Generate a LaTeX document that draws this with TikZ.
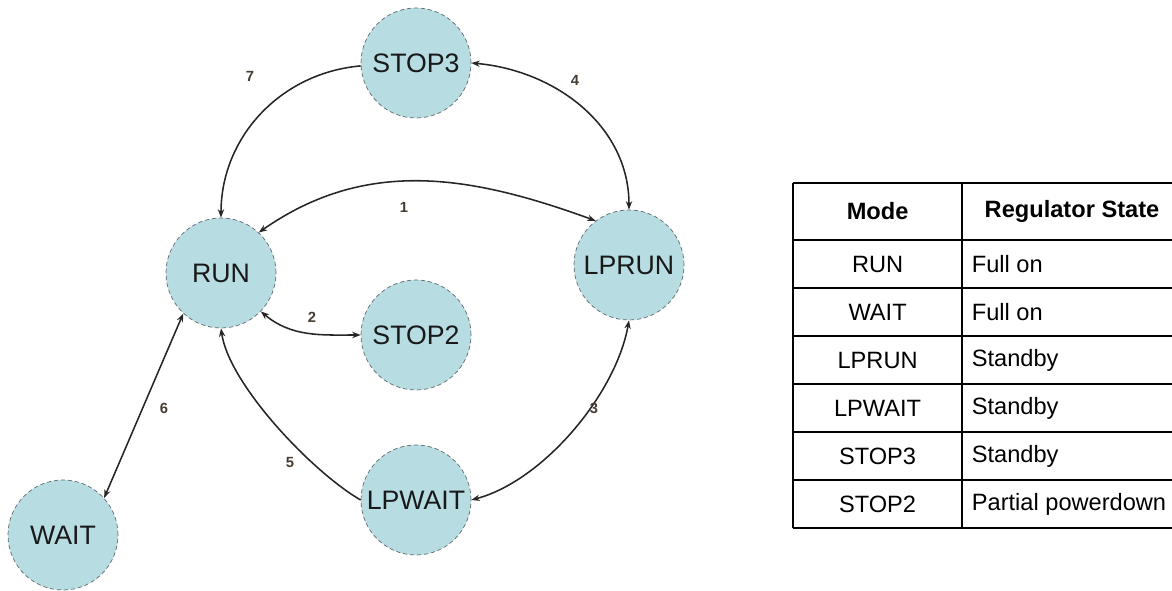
\documentclass[tikz,border=0pt]{standalone}
\usepackage{fontspec}
\setmainfont{Liberation Sans}
\usepackage{xcolor}
\usepackage{tikz}
\usetikzlibrary{arrows.meta}
\definecolor{modefill}{RGB}{183,221,226}
\definecolor{modeline}{RGB}{95,105,108}
\definecolor{numcol}{RGB}{70,60,50}

\tikzset{
  mode/.style={circle, fill=modefill, draw=modeline, densely dashed, line width=0.5pt,
    minimum size=2.75cm, inner sep=0pt, text=black!90,
    font=\fontsize{19}{19}\selectfont},
  trans/.style={line width=1.1pt, draw=black!85, solid},
  tip/.style={-{Stealth[length=6pt,width=4.5pt]}},
  both/.style={{Stealth[length=6pt,width=4.5pt]}-{Stealth[length=6pt,width=4.5pt]}},
  num/.style={text=numcol, font=\fontsize{10.5}{10.5}\selectfont\bfseries, inner sep=0pt},
  tbl/.style={line width=1.4pt},
  cell/.style={font=\fontsize{16.8}{16.8}\selectfont, inner sep=0pt}
}

\begin{document}
\begin{tikzpicture}
        \useasboundingbox (0,0) rectangle (29.3,14.75);

        % Les modes
        \node[mode] (stop3) at (10.4,13.175) {STOP3};
        \node[mode] (run) at (5.525,7.925) {RUN};
        \node[mode] (stop2) at (10.4,6.375) {STOP2};
        \node[mode] (lprun) at (15.725,8.125) {LPRUN};
        \node[mode] (lpwait) at (10.4,2.25) {LPWAIT};
        \node[mode] (wait) at (1.575,1.375) {WAIT};

        % Les transitions
        \draw[trans, tip] (stop3.183) to[out=185, in=90] (run.north);
        \draw[trans, both] (stop3.east) to[out=-5, in=90] (lprun.north);
        \draw[trans, both] (run.47) to[out=35, in=160] (lprun.127);
        \draw[trans, both] (run.-44) to[out=-40, in=180] (stop2.west);
        \draw[trans, both] (lprun.south) to[out=-100, in=15, looseness=0.8] (lpwait.east);
        \draw[trans, tip] (lpwait.west) to[out=150, in=-82, looseness=0.65] (run.south);
        \draw[trans, both] (run.227) -- (wait.42);

        % Numeros
        \node[num] (n1) at (10.1,9.575) {1};
        \node[num] (n2) at (7.8,6.825) {2};
        \node[num] (n3) at (14.85,4.55) {3};
        \node[num] (n4) at (14.375,12.75) {4};
        \node[num] (n5) at (7.25,3.2) {5};
        \node[num] (n6) at (4.1,4.55) {6};
        \node[num] (n7) at (6.25,12.85) {7};

        % Tableau
        \foreach \y in {10.175,8.75,7.55,6.35,5.15,3.95,2.75,1.55}
          \draw[tbl] (19.825,\y) -- (29.3,\y);
        \draw[tbl] (19.825,10.175) -- (19.825,1.55);
        \draw[tbl] (24.05,10.175) -- (24.05,1.55);

        \node[cell] (hmode) at (21.94,9.4625) {\bfseries Mode};
        \node[cell] (hstate) at (26.8,9.4625) {\bfseries Regulator State};
        \foreach \m/\s [count=\i] in {RUN/Full on, WAIT/Full on, LPRUN/Standby,
            LPWAIT/Standby, STOP3/Standby, STOP2/Partial powerdown} {
          \node[cell] (m\i) at (21.94,{8.15-1.2*(\i-1)}) {\m};
          \node[cell, anchor=west] (s\i) at (24.29,{8.15-1.2*(\i-1)}) {\s};
        }
    \end{tikzpicture}
\end{document}
